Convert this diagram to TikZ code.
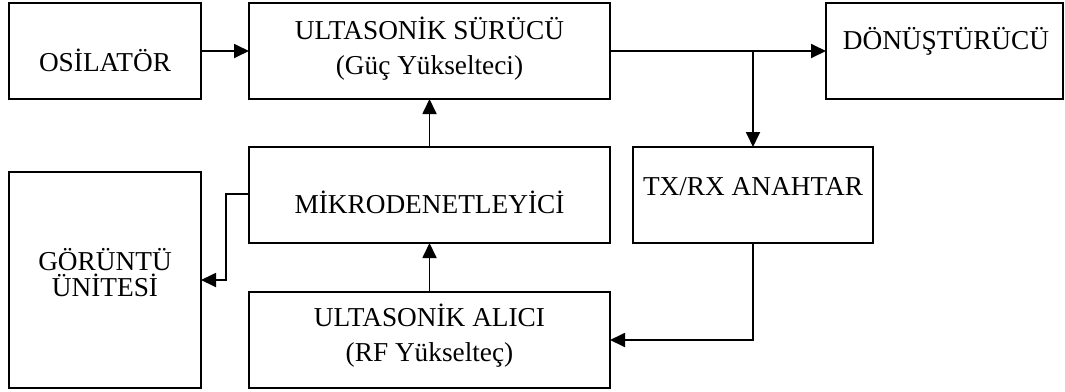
\documentclass[tikz,border=0pt]{standalone}
\usepackage{fontspec}
\setmainfont{Liberation Serif}
\usetikzlibrary{arrows.meta}
\begin{document}
\begin{tikzpicture}[x=1bp,y=-1bp,
  blk/.style={draw, line width=1.8bp, inner sep=0pt, outer sep=0pt, anchor=north west},
  lbl/.style={anchor=base, inner sep=0pt, font=\fontsize{27.3bp}{30bp}\selectfont},
  wire/.style={line width=1.8bp},
  arr/.style={wire, -{Triangle[length=15bp,width=14bp]}}]
\useasboundingbox (0,0) rectangle (1065,391);
% blocks
\node[blk, minimum width=192bp, minimum height=96bp] (osc) at (9,3) {};
\node[blk, minimum width=361bp, minimum height=96bp] (drv) at (249,3) {};
\node[blk, minimum width=237bp, minimum height=96bp] (trd) at (826,3) {};
\node[blk, minimum width=361bp, minimum height=96bp] (mcu) at (249,147) {};
\node[blk, minimum width=240bp, minimum height=96bp] (sw) at (633,147) {};
\node[blk, minimum width=192bp, minimum height=216bp] (disp) at (9,172) {};
\node[blk, minimum width=361bp, minimum height=96bp] (rx) at (249,292) {};
% labels
\node[lbl] (tosc) at (105,71) {OSİLATÖR};
\node[lbl] (tdrv1) at (429.5,39) {ULTASONİK SÜRÜCÜ};
\node[lbl] (tdrv2) at (429.5,74) {(Güç Yükselteci)};
\node[lbl] (ttrd) at (946,49) {DÖNÜŞTÜRÜCÜ};
\node[lbl] (tmcu) at (429.5,213) {MİKRODENETLEYİCİ};
\node[lbl] (tsw) at (753,195) {TX/RX ANAHTAR};
\node[lbl] (tdisp1) at (105,270) {GÖRÜNTÜ};
\node[lbl] (tdisp2) at (105,296) {ÜNİTESİ};
\node[lbl] (trx1) at (429.5,326) {ULTASONİK ALICI};
\node[lbl] (trx2) at (429.5,361) {(RF Yükselteç)};
% connections
\coordinate (split) at (sw.north |- drv.east);
\draw[arr] (osc.east) -- (drv.west);
\draw[arr] (drv.east) -- (trd.west);
\draw[arr] (split) -- (sw.north);
\draw[arr] (mcu.north) -- (drv.south);
\draw[arr] (rx.north) -- (mcu.south);
\draw[arr] ([yshift=1bp]mcu.west) -- ++(-23,0) |- (disp.east);
\draw[arr] (sw.south) |- (rx.east);
\end{tikzpicture}
\end{document}
